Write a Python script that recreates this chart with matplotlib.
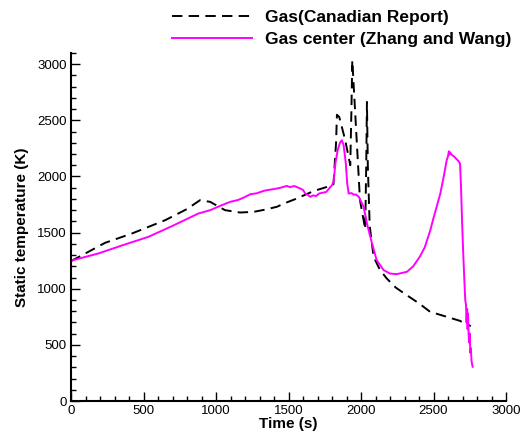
import matplotlib
matplotlib.use("Agg")
import matplotlib.pyplot as plt
from matplotlib.ticker import MultipleLocator

plt.rcParams['font.family'] = ['Liberation Sans', 'DejaVu Sans']
plt.rcParams['lines.scale_dashes'] = False

# Gas temperature, Canadian report
canadian_t = [0, 120, 235, 420, 650, 800, 890, 960, 1062, 1166, 1260, 1340, 1420,
              1470, 1550, 1673, 1760, 1810, 1828, 1834, 1850, 1890, 1926, 1934, 1940,
              1993, 2029, 2036, 2041, 2047, 2060, 2087, 2130, 2177, 2240, 2315, 2400,
              2476, 2591, 2680, 2757]
canadian_T = [1246, 1329, 1409, 1492, 1611, 1710, 1789, 1774, 1700, 1679, 1685, 1705, 1730,
              1760, 1800, 1870, 1905, 1930, 2300, 2550, 2530, 2330, 2100, 2600, 3035,
              1789, 1530, 2100, 2664, 2100, 1560, 1284, 1170, 1092, 1010, 943, 870,
              795, 750, 715, 667]

# Gas centre temperature, Zhang and Wang
zhang_t = [0, 188, 350, 533, 700, 878, 960, 1039, 1100, 1150, 1188, 1237, 1280, 1330,
           1351, 1400, 1440, 1489, 1510, 1540, 1581, 1600, 1616, 1635, 1650, 1670, 1690,
           1710, 1730, 1760, 1785, 1800, 1812, 1823, 1840, 1855, 1868, 1880, 1895, 1905,
           1915, 1935, 1950, 1965, 1985, 2018, 2041, 2076, 2108, 2156, 2200, 2246, 2317,
           2360, 2405, 2440, 2478, 2500, 2525, 2547, 2570, 2591, 2600, 2606, 2610, 2615,
           2621, 2628, 2640, 2655, 2670, 2683, 2690, 2697, 2705, 2712, 2719, 2724, 2728,
           2732, 2735, 2738, 2742, 2746, 2750, 2754, 2758, 2762, 2766, 2770]
zhang_T = [1250, 1314, 1385, 1462, 1560, 1670, 1700, 1744, 1775, 1790, 1810, 1842, 1850, 1872,
           1878, 1888, 1898, 1916, 1905, 1915, 1893, 1880, 1848, 1835, 1818, 1832, 1825,
           1848, 1854, 1862, 1900, 1922, 1960, 2115, 2240, 2300, 2323, 2280, 2120, 1937,
           1848, 1852, 1838, 1840, 1818, 1730, 1581, 1403, 1255, 1166, 1135, 1130, 1151,
           1200, 1284, 1370, 1521, 1630, 1745, 1848, 1996, 2145, 2180, 2225, 2195, 2215,
           2200, 2190, 2180, 2160, 2140, 2115, 1900, 1600, 1314, 1100, 899, 860, 700,
           820, 640, 780, 600, 520, 600, 430, 470, 360, 330, 305]

x_ticks = [0, 500, 1000, 1500, 2000, 2500, 3000]
y_ticks = [0, 500, 1000, 1500, 2000, 2500, 3000]

fig = plt.figure(figsize=(5.32, 4.33), dpi=100)
ax = fig.add_axes([71 / 532, 32 / 433, 435 / 532, 348 / 433])

ax.plot(canadian_t, canadian_T, color='black', lw=1.4, dashes=(7.5, 4.5),
        label='Gas(Canadian Report)')
ax.plot(zhang_t, zhang_T, color='#ff00ff', lw=1.4,
        label='Gas center (Zhang and Wang)')

ax.set_xlim(0, 3000)
ax.set_ylim(0, 3100)
ax.set_xticks(x_ticks)
ax.set_yticks(y_ticks)
ax.xaxis.set_minor_locator(MultipleLocator(100))
ax.yaxis.set_minor_locator(MultipleLocator(100))

for side in ('top', 'right'):
    ax.spines[side].set_visible(False)
for side in ('left', 'bottom'):
    ax.spines[side].set_linewidth(1.5)

ax.tick_params(which='major', direction='in', length=6.5, width=1.0, labelsize=9.5, pad=3)
ax.tick_params(which='minor', direction='in', length=3.6, width=1.0)

ax.set_xlabel('Time (s)', fontsize=11, fontweight='bold', labelpad=0)
ax.set_ylabel('Static temperature (K)', fontsize=11, fontweight='bold', labelpad=6)

ax.legend(loc='upper left', bbox_to_anchor=(172 / 532, 1 - 10 / 433),
          bbox_transform=fig.transFigure, frameon=False, borderpad=0,
          borderaxespad=0, handlelength=4.6, handletextpad=0.75,
          labelspacing=0.4, prop={'weight': 'bold', 'size': 12.5})

fig.savefig('out.png', dpi=100)
